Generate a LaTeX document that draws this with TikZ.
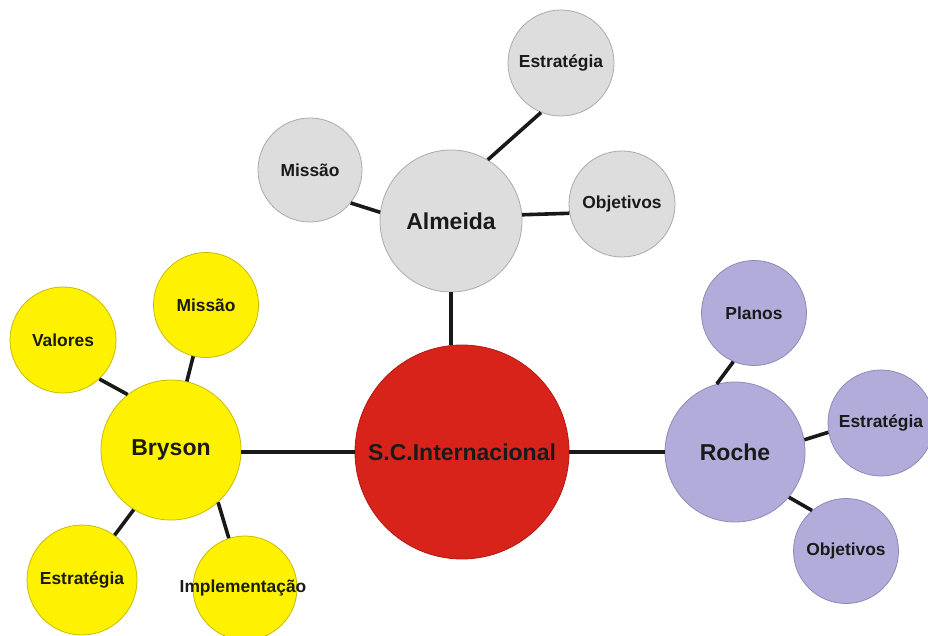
\documentclass[tikz,border=0pt]{standalone}
\usepackage{fontspec}
\setmainfont{Liberation Sans}
\definecolor{grayfill}{HTML}{DDDDDD}
\definecolor{grayedge}{HTML}{AAAAAA}
\definecolor{yelfill}{HTML}{FFF200}
\definecolor{yeledge}{HTML}{C9B900}
\definecolor{purfill}{HTML}{B1ACD9}
\definecolor{puredge}{HTML}{8E89B8}
\definecolor{redfill}{HTML}{D8231A}
\definecolor{rededge}{HTML}{B01A12}
\definecolor{txt}{HTML}{1A1A1A}
\tikzset{
  bubble/.style={circle, draw, line width=0.8pt, inner sep=0pt},
  bigtext/.style={text=txt, font=\fontsize{23}{26}\selectfont\bfseries},
  smalltext/.style={text=txt, font=\fontsize{17.4}{20}\selectfont\bfseries},
  big/.style 2 args={bubble, minimum size=#1, label={[bigtext]center:#2}},
  small/.style 2 args={bubble, minimum size=#1, label={[smalltext]center:#2}},
  gr/.style={fill=grayfill, draw=grayedge},
  ye/.style={fill=yelfill, draw=yeledge},
  pu/.style={fill=purfill, draw=puredge},
  link/.style={line width=3.6pt, draw=black!90}
}
\begin{document}
\begin{tikzpicture}[x=1pt, y=-1pt]
\useasboundingbox (0,0) rectangle (928,636);
% center
\node[bubble, minimum size=214pt, fill=redfill, draw=rededge, label={[bigtext]center:S.C.Internacional}] (sc) at (462,452) {};
% Almeida
\node[big={142pt}{Almeida}, gr] (alm) at (451,221) {};
\node[small={104pt}{Missão}, gr] (almmis) at (310,170) {};
\node[small={106pt}{Estratégia}, gr] (almest) at (561,63) {};
\node[small={106pt}{Objetivos}, gr] (almobj) at (622,204) {};
% Bryson
\node[big={140pt}{Bryson}, ye] (bry) at (171,450) {};
\node[small={106pt}{Valores}, ye] (bryval) at (63,340) {};
\node[small={105pt}{Missão}, ye] (brymis) at (206,305) {};
\node[small={110pt}{Estratégia}, ye] (bryest) at (82,580) {};
\node[bubble, minimum size=104pt, ye] (bryimp) at (245,588) {};
\node[smalltext] (bryimptxt) at (243,588) {Implementação};
% Roche
\node[big={140pt}{Roche}, pu] (roc) at (735,452) {};
\node[small={105pt}{Planos}, pu] (rocpla) at (754,313) {};
\node[small={106pt}{Estratégia}, pu] (rocest) at (881,423) {};
\node[small={105pt}{Objetivos}, pu] (rocobj) at (846,551) {};
% links
\draw[link] (alm.south) -- (alm.south |- sc.north);
\draw[link] (bry.east |- sc.west) -- (sc.west);
\draw[link] (sc.east) -- (roc.west |- sc.east);
\draw[link] (alm.173) -- (almmis.-39);
\draw[link] (alm.59) -- (almest.-112);
\draw[link] (alm.5) -- (almobj.-170);
\draw[link] (bry.128) -- (bryval.-47);
\draw[link] (bry.77) -- (brymis.-104);
\draw[link] (bry.-122) -- (bryest.54);
\draw[link] (bry.-48) -- (bryimp.108);
\draw[link] (roc.105) -- (rocpla.-113);
\draw[link] (roc.10) -- (rocest.-170);
\draw[link] (roc.-40) -- (rocobj.130);
\end{tikzpicture}
\end{document}
